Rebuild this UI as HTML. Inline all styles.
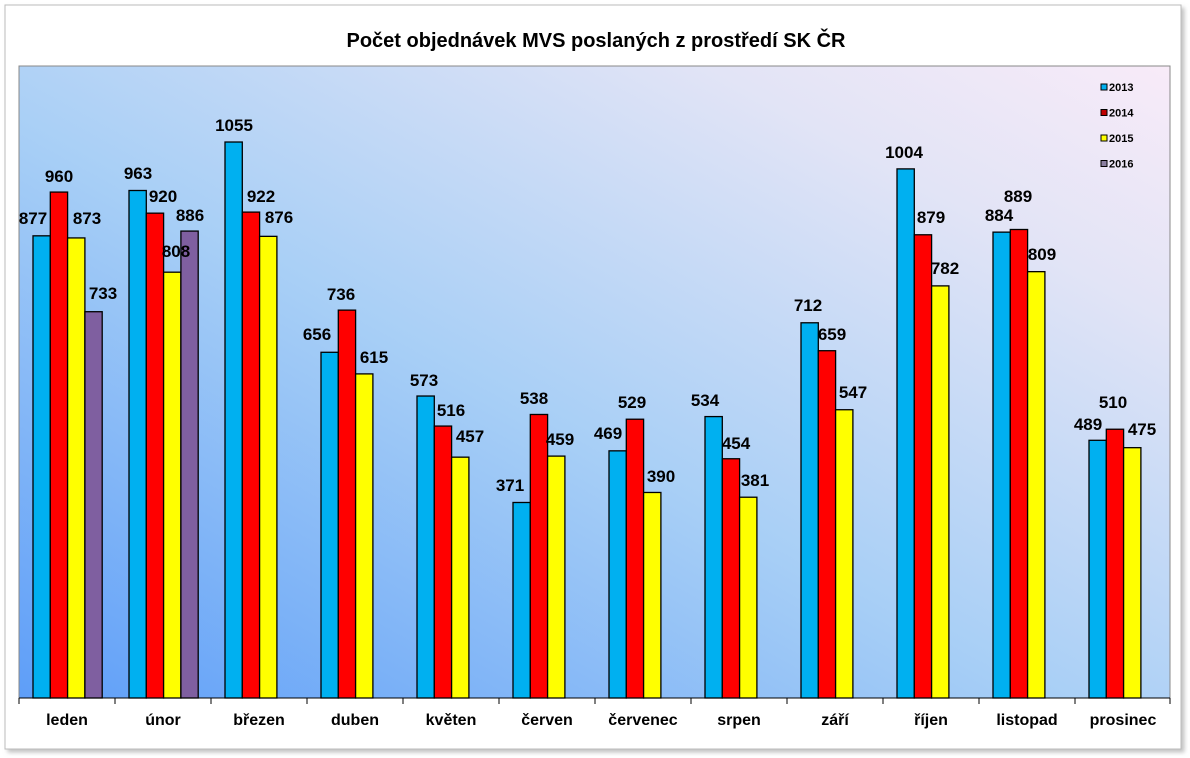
<!DOCTYPE html>
<html><head><meta charset="utf-8"><style>
body{margin:0;background:#fff;width:1190px;height:758px;overflow:hidden}
svg{display:block;font-family:"Liberation Sans",Arial,sans-serif}
</style></head><body>
<svg id="s" width="1190" height="758" xmlns="http://www.w3.org/2000/svg">
<defs>
<linearGradient id="bg" x1="0" y1="1" x2="1" y2="0">
<stop offset="0" stop-color="#5e9ef8"/>
<stop offset="0.45" stop-color="#a8cff6"/>
<stop offset="0.8" stop-color="#e2e4f6"/>
<stop offset="1" stop-color="#f8ebf8"/>
</linearGradient>
<filter id="sh"><feDropShadow dx="3" dy="3" stdDeviation="2" flood-color="#999" flood-opacity="0.6"/></filter>
</defs>
<rect x="5" y="5" width="1176" height="744" fill="#fff" stroke="#bbb" filter="url(#sh)"/>
<text x="596" y="47" text-anchor="middle" font-size="20" font-weight="bold">Počet objednávek MVS poslaných z prostředí SK ČR</text>
<rect x="19" y="66" width="1151" height="632" fill="url(#bg)" stroke="#888"/>
<g id="g"></g>
</svg>
<script>
var d=[["leden",877,960,873,733],["únor",963,920,808,886],["březen",1055,922,876],["duben",656,736,615],["květen",573,516,457],["červen",371,538,459],["červenec",469,529,390],["srpen",534,454,381],["září",712,659,547],["říjen",1004,879,782],["listopad",884,889,809],["prosinec",489,510,475]];
var P=[[[33,218],[59,176],[87,218],[103,293]],[[138,173],[163,196],[176,251],[190,215]],[[234,125],[261,196],[279,217]],[[317,334],[341,294],[374,357]],[[424,380],[451,410],[470,436]],[[510,485],[534,398],[560,439]],[[608,433],[632,402],[661,476]],[[705,400],[736,443],[755,480]],[[808,305],[832,334],[853,392]],[[904,152],[931,217],[945,268]],[[999,215],[1018,196],[1042,254]],[[1088,424],[1113,402],[1142,429]]];
var c=["#00b0f0","#ff0000","#ffff00","#7f5fa0"],h="",t="",k=0.527,B=698,W=17.3;
d.forEach(function(r,i){var x0=19+i*96;
h+='<line x1="'+x0+'" y1="'+B+'" x2="'+x0+'" y2="'+(B+6)+'" stroke="#000"/>';
h+='<text x="'+(x0+48)+'" y="725" text-anchor="middle" font-size="16" font-weight="bold">'+r[0]+'</text>';
for(var j=1;j<r.length;j++){var x=x0+14+(j-1)*W,y=B-r[j]*k;
h+='<rect x="'+x+'" y="'+y+'" width="'+W+'" height="'+(B-y)+'" fill="'+c[j-1]+'" stroke="#000" stroke-width="1.3"/>';
var p=P[i][j-1];
t+='<text x="'+p[0]+'" y="'+(p[1]+6)+'" text-anchor="middle" font-size="17" font-weight="bold">'+r[j]+'</text>';}
});
h+='<line x1="1170" y1="'+B+'" x2="1170" y2="'+(B+6)+'" stroke="#000"/><line x1="19" y1="'+B+'" x2="1170" y2="'+B+'" stroke="#000"/>';
var L=["2013","2014","2015","2016"],lc=["#00b0f0","#c00000","#ffff00","#8a7fa0"];
for(var j=0;j<4;j++){var y=89+j*25.5;h+='<rect x="1101" y="'+(y-5)+'" width="6" height="6" fill="'+lc[j]+'" stroke="#000"/><text x="1109" y="'+(y+2)+'" font-size="11" font-weight="bold">'+L[j]+'</text>';}
document.getElementById("g").innerHTML=h+t;
</script>
</body></html>
